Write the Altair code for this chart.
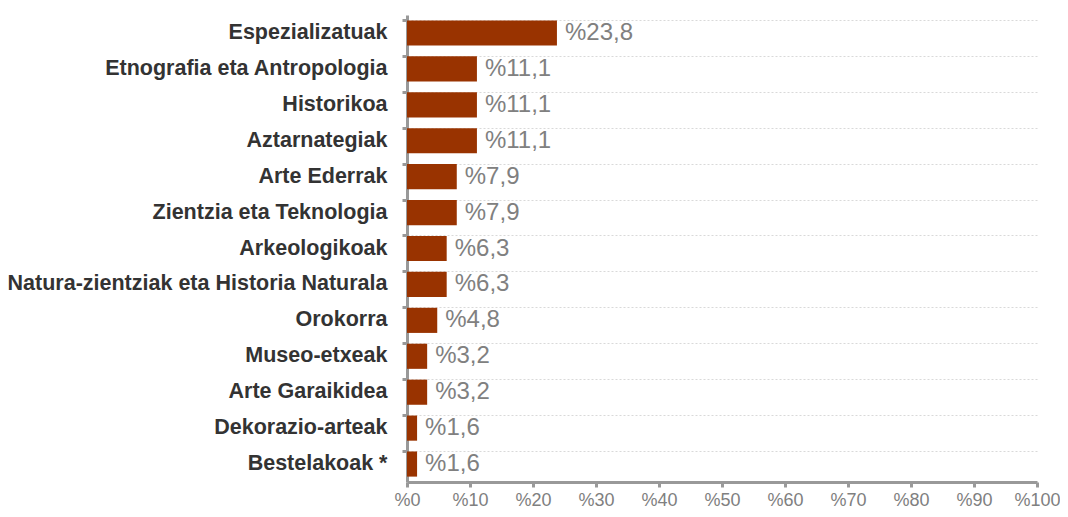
import altair as alt
import pandas as pd

categories = [
    "Espezializatuak",
    "Etnografia eta Antropologia",
    "Historikoa",
    "Aztarnategiak",
    "Arte Ederrak",
    "Zientzia eta Teknologia",
    "Arkeologikoak",
    "Natura-zientziak eta Historia Naturala",
    "Orokorra",
    "Museo-etxeak",
    "Arte Garaikidea",
    "Dekorazio-arteak",
    "Bestelakoak *",
]
values = [23.8, 11.1, 11.1, 11.1, 7.9, 7.9, 6.3, 6.3, 4.8, 3.2, 3.2, 1.6, 1.6]
x_ticks = [0, 10, 20, 30, 40, 50, 60, 70, 80, 90, 100]

df = pd.DataFrame({"cat": categories, "val": values})
df["label"] = ["%" + f"{v:.1f}".replace(".", ",") for v in values]

FONT = "Liberation Sans"

y_enc = alt.Y(
    "cat:N",
    sort=categories,
    scale=alt.Scale(paddingInner=0.3, paddingOuter=0.15),
    axis=alt.Axis(
        title=None,
        domainColor="#999999",
        domainWidth=3,
        tickColor="#999999",
        tickWidth=3,
        tickSize=5,
        bandPosition=0,
        grid=True,
        gridColor="#d9d9d9",
        gridDash=[2, 2],
        gridWidth=1,
        labelFont=FONT,
        labelFontSize=21.5,
        labelFontWeight="bold",
        labelColor="#333333",
        labelPadding=15,
        labelLimit=500,
    ),
)

x_enc = alt.X(
    "val:Q",
    scale=alt.Scale(domain=[0, 100], nice=False),
    axis=alt.Axis(
        title=None,
        values=x_ticks,
        grid=False,
        domainColor="#999999",
        domainWidth=3,
        tickColor="#999999",
        tickWidth=3,
        tickSize=5,
        labelFont=FONT,
        labelFontSize=18,
        labelColor="#808080",
        labelPadding=4,
        labelExpr="'%' + datum.value",
        labelFlush=False,
    ),
)

bars = alt.Chart(df).mark_bar(color="#993300").encode(y=y_enc, x=x_enc)
text = alt.Chart(df).mark_text(
    align="left", baseline="middle", dx=8, font=FONT, fontSize=24, color="#808080"
).encode(
    y=alt.Y("cat:N", sort=categories),
    x=alt.X("val:Q"),
    text="label:N",
)

chart = (
    alt.layer(bars, text)
    .properties(
        width=630,
        height=467,
        autosize=alt.AutoSizeParams(type="none"),
        padding={"left": 399, "top": 7, "right": 23, "bottom": 31},
    )
    .configure_view(stroke=None)
)

chart.save("out.html", embed_options={"renderer": "svg", "actions": False})
